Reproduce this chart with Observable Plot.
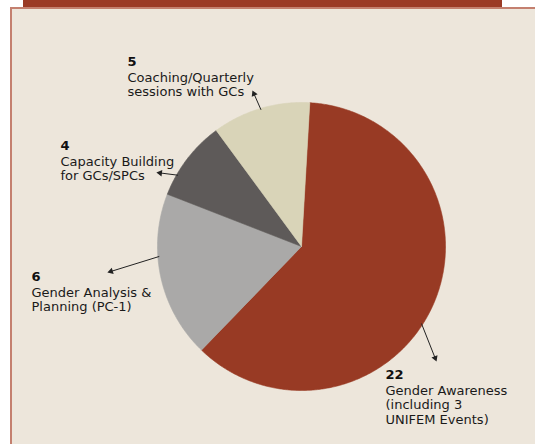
<!DOCTYPE html>
<html><head><meta charset="utf-8">
<script src="https://cdn.jsdelivr.net/npm/d3@7"></script>
<script src="https://cdn.jsdelivr.net/npm/@observablehq/plot@0.6"></script>
<style>
html,body{margin:0;padding:0;background:#fff;}
#wrap{position:relative;width:535px;height:444px;overflow:hidden;}
#bar{position:absolute;left:23px;top:0;width:479px;height:7px;background:#9b3a25;}
#panel{position:absolute;left:10px;top:7px;width:540px;height:450px;background:#ede6db;border:2px solid #c4806f;box-sizing:border-box;}
#chart{position:absolute;left:0;top:0;}
</style></head>
<body><div id="wrap"><div id="bar"></div><div id="panel"></div><div id="chart"></div></div>
<script>
// ---- data ----
const categories = ["Gender Awareness", "Gender Analysis & Planning", "Capacity Building", "Coaching/Quarterly sessions"];
const counts = [22, 6, 4, 5];                 // numbers printed on the chart
const shares = [61.3, 18.7, 9.0, 11.0];       // slice sizes as drawn in the picture (%)
const labelLines = [
  ["Gender Awareness", "(including 3", "UNIFEM Events)"],
  ["Gender Analysis &", "Planning (PC-1)"],
  ["Capacity Building", "for GCs/SPCs"],
  ["Coaching/Quarterly", "sessions with GCs"]
];
const colors = ["#983a24", "#aaa9a8", "#5e5a59", "#d9d4b8"];

// ---- layout (pixels) ----
const CX = 301, CY = 246, R = 144;
const startDeg = 3.3;
const FS = 13, LINE = 14.6;
const labelPos = [ {x: 385, b: 378}, {x: 31, b: 280}, {x: 60, b: 149}, {x: 127, b: 65} ];
const arrowFromDeg = [122.7, 266, 300, 343.5];
const arrowTo = [ [436, 361], [107, 272], [156, 172], [252, 90] ];
const toX = px => (px - CX) / R, toY = py => (py - CY) / R;

const arcs = d3.pie().sort(null).value(d => d).startAngle(startDeg * Math.PI / 180)
  .endAngle((startDeg + 360) * Math.PI / 180)(shares);

const sliceMarks = arcs.map((a, i) => {
  const pts = [{x: 0, y: 0}];
  const n = Math.max(2, Math.ceil((a.endAngle - a.startAngle) / (Math.PI / 360)));
  for (let k = 0; k <= n; k++) {
    const t = a.startAngle + (a.endAngle - a.startAngle) * k / n;
    pts.push({x: Math.sin(t), y: -Math.cos(t)});
  }
  pts.push({x: 0, y: 0});
  return Plot.line(pts, {x: "x", y: "y", fill: colors[i], stroke: colors[i], strokeWidth: 0.6, curve: "linear"});
});

const numRows = categories.map((c, i) => ({x: toX(labelPos[i].x), y: toY(labelPos[i].b - 0.32 * 13), t: String(counts[i])}));
const descRows = categories.map((c, i) => ({
  x: toX(labelPos[i].x),
  y: toY(labelPos[i].b + 16 - 0.71 * LINE),
  t: labelLines[i].join("\n")
}));

const arrows = categories.map((c, i) => {
  const t = arrowFromDeg[i] * Math.PI / 180;
  const x1 = Math.sin(t) * 0.99, y1 = -Math.cos(t) * 0.99;
  const x2 = toX(arrowTo[i][0]), y2 = toY(arrowTo[i][1]);
  const dx = x2 - x1, dy = y2 - y1, len = Math.hypot(dx, dy);
  const back = 3.6 / R;
  return {x1, y1, x2, y2, hx: x2 - dx / len * back, hy: y2 - dy / len * back,
          rot: Math.atan2(dx, -dy) * 180 / Math.PI};
});

const chart = Plot.plot({
  width: 535, height: 444, margin: 0,
  x: {domain: [-1, 1], range: [CX - R, CX + R], axis: null},
  y: {domain: [-1, 1], range: [CY - R, CY + R], axis: null},
  style: {fontFamily: "'DejaVu Sans', sans-serif", fontSize: "13px", background: "transparent", color: "#1a1a1a"},
  marks: [
    ...sliceMarks,
    Plot.link(arrows, {x1: "x1", y1: "y1", x2: "hx", y2: "hy", stroke: "#222", strokeWidth: 1}),
    Plot.dot(arrows, {x: "hx", y: "hy", symbol: "triangle", rotate: "rot", r: 2.4, fill: "#222", stroke: "none"}),
    Plot.text(numRows, {x: "x", y: "y", text: "t", textAnchor: "start", fontWeight: "bold", fontSize: 13, fill: "#111"}),
    Plot.text(descRows, {x: "x", y: "y", text: "t", textAnchor: "start", lineAnchor: "top", lineHeight: LINE / FS, fontSize: FS, fill: "#1a1a1a"})
  ]
});
document.getElementById("chart").appendChild(chart);
</script>
</body></html>
